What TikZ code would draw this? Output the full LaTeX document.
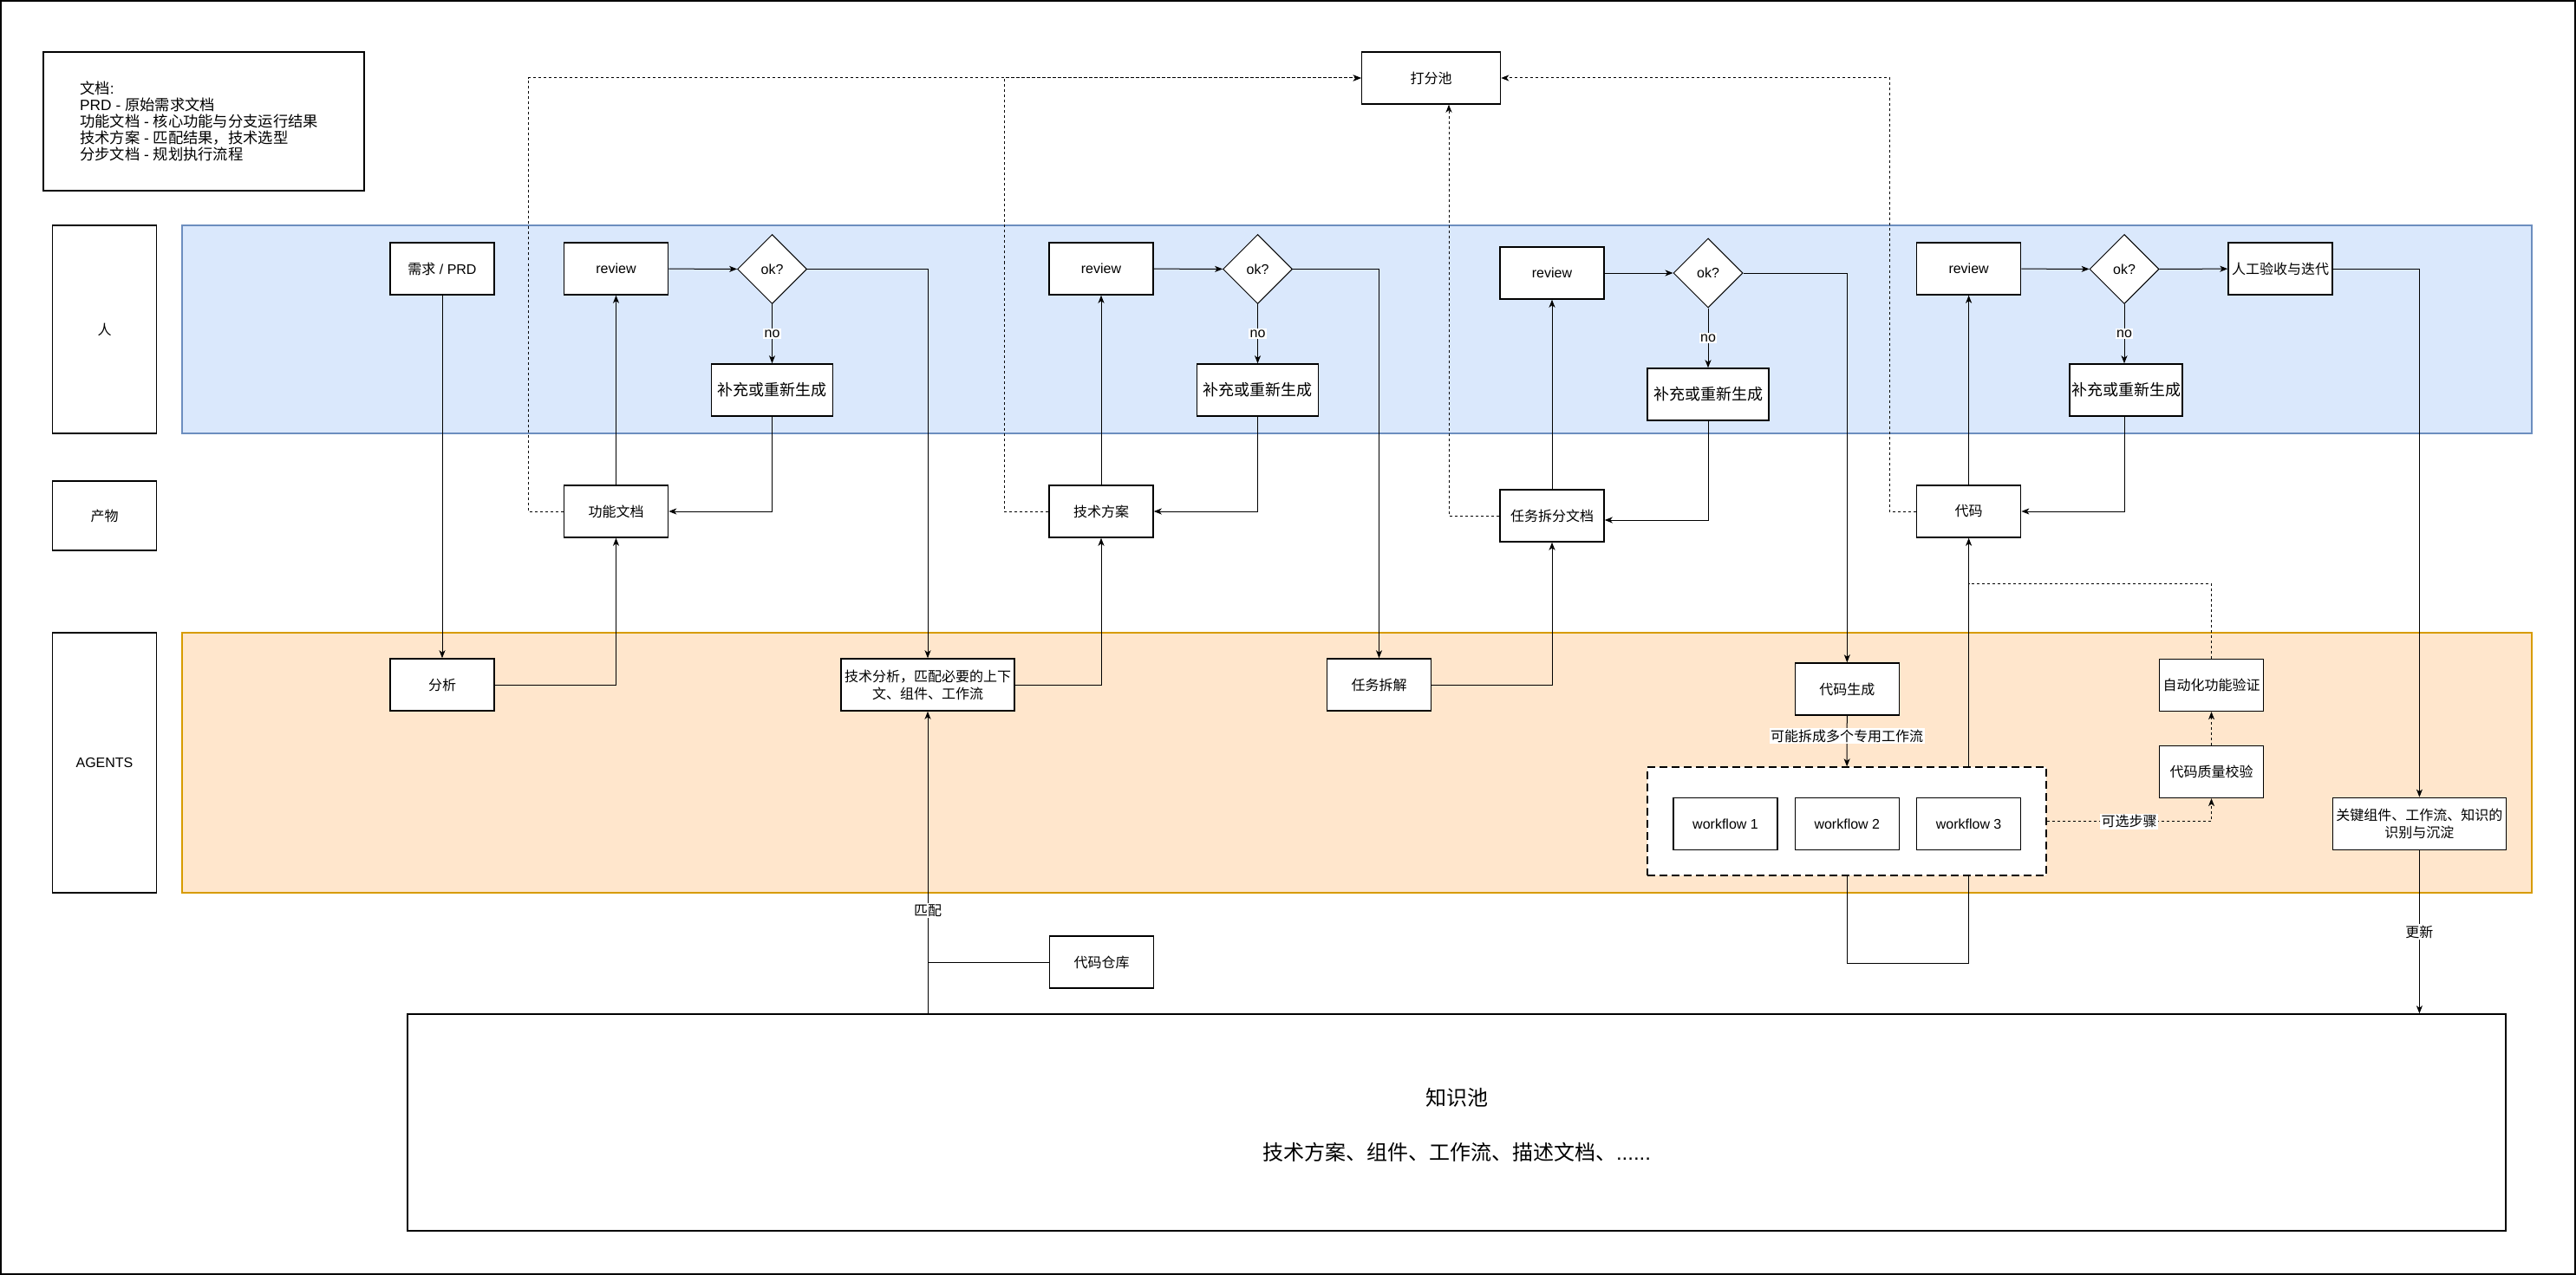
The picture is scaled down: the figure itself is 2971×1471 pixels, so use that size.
\documentclass[tikz,border=0pt]{standalone}
\usepackage{fontspec}
\setmainfont{Liberation Sans}
\newfontfamily\cjkf{Noto Sans CJK SC}
\newcommand\zh[1]{{\cjkf #1}}
\usetikzlibrary{shapes.geometric,arrows.meta,calc}
\definecolor{laneblue}{HTML}{DAE8FC}
\definecolor{laneblueline}{HTML}{6C8EBF}
\definecolor{laneorange}{HTML}{FFE6CC}
\definecolor{laneorangeline}{HTML}{D79B00}
\pgfdeclarelayer{lanes}\pgfdeclarelayer{behind}
\pgfsetlayers{lanes,behind,main}
\begin{document}
\begin{tikzpicture}[x=1pt,y=-1pt,
  every node/.style={font=\fontsize{16}{20}\selectfont, inner sep=0pt},
  box/.style={draw, line width=1.5pt, fill=white, minimum width=120pt, minimum height=60pt, align=center},
  fixbox/.style={box, minimum width=140pt, font=\fontsize{18}{22}\selectfont},
  dia/.style={draw, diamond, line width=1pt, fill=white, minimum width=80pt, minimum height=80pt},
  lbl/.style={fill=white, inner sep=1.5pt},
  tip/.style={-{Stealth[length=9pt,width=7pt,inset=2.5pt]}},
  conn/.style={line width=1pt, tip},
  plainline/.style={line width=1pt},
  dotline/.style={line width=1pt, dash pattern=on 3pt off 3pt},
  dotconn/.style={dotline, tip},
  bigtext/.style={font=\fontsize{24}{28}\selectfont}
]
\useasboundingbox (0,0) rectangle (2971,1471);
\begin{pgfonlayer}{lanes}
  \fill[white] (0,0) rectangle (2971,1471);
  \draw[line width=2pt] (1,1) rectangle (2970,1470);
  \draw[fill=laneblue, draw=laneblueline, line width=1.2pt] (210,260) rectangle (2920,500);
  \draw[fill=laneorange, draw=laneorangeline, line width=1.2pt] (210,730) rectangle (2920,1030);
\end{pgfonlayer}

% legend
\node[draw, line width=1.5pt, minimum width=370pt, minimum height=160pt] (legbox) at (235,140) {};
\node[anchor=west, align=left, font=\fontsize{17.3}{18.85}\selectfont] (legtext) at (92,140)
  {\zh{文档}:\\PRD - \zh{原始需求文档}\\\zh{功能文档} - \zh{核心功能与分支运行结果}\\\zh{技术方案} - \zh{匹配结果，技术选型}\\\zh{分步文档} - \zh{规划执行流程}};

% lane labels
\node[box, minimum height=240pt] (lane1) at (120.5,380) {\zh{人}};
\node[box, minimum height=80pt] (lane2) at (120.5,595) {\zh{产物}};
\node[box, minimum height=300pt] (lane3) at (120.5,880) {AGENTS};

% scoring pool
\node[box, minimum width=160pt] (dfc) at (1650.5,90) {\zh{打分池}};

% stage 1
\node[box] (prd) at (510,310) {\zh{需求} / PRD};
\node[box] (rv1) at (710.5,310) {review};
\node[dia] (ok1) at (890.5,310.5) {ok?};
\node[fixbox] (fix1) at (890.5,450) {\zh{补充或重新生成}};
\node[box] (fd) at (710.5,590) {\zh{功能文档}};
\node[box] (fx) at (510,790) {\zh{分析}};

% stage 2
\node[box, minimum width=200pt] (tfx) at (1070,790) {\zh{技术分析，匹配必要的上下}\\\zh{文、组件、工作流}};
\node[box] (rv2) at (1270,310) {review};
\node[dia] (ok2) at (1450.5,310.5) {ok?};
\node[fixbox] (fix2) at (1450.5,450) {\zh{补充或重新生成}};
\node[box] (jsfa) at (1270,590) {\zh{技术方案}};
\node[box] (dmck) at (1270.5,1110) {\zh{代码仓库}};

% stage 3
\node[box] (rwcj) at (1590.5,790) {\zh{任务拆解}};
\node[box] (rwwd) at (1790,595) {\zh{任务拆分文档}};
\node[box] (rv3) at (1790,315) {review};
\node[dia] (ok3) at (1970,315) {ok?};
\node[fixbox] (fix3) at (1970,455) {\zh{补充或重新生成}};

% stage 4
\node[box] (dmsc) at (2130.3,795) {\zh{代码生成}};
\node[draw, fill=white, line width=1.8pt, dash pattern=on 9pt off 5pt, minimum width=460pt, minimum height=125pt] (wfc) at (2130,947.7) {};
\node[box] (wf1) at (1990,950.4) {workflow 1};
\node[box] (wf2) at (2130.3,950.4) {workflow 2};
\node[box] (wf3) at (2270.6,950.4) {workflow 3};
\node[box] (dm) at (2270.6,590) {\zh{代码}};
\node[box] (rv4) at (2270.6,310) {review};
\node[dia] (ok4) at (2450,310.5) {ok?};
\node[fixbox, minimum width=130pt] (fix4) at (2452,450) {\zh{补充或重新生成}};
\node[box] (rgys) at (2630,310) {\zh{人工验收与迭代}};
\node[box] (zdh) at (2550.5,790.4) {\zh{自动化功能验证}};
\node[box] (dmzl) at (2550.5,890.4) {\zh{代码质量校验}};
\node[box, minimum width=200pt] (gjzj) at (2790.4,950.4) {\zh{关键组件、工作流、知识的}\\\zh{识别与沉淀}};

% knowledge pool
\node[box, minimum width=2420pt, minimum height=250pt] (zsc) at (1680,1295) {};
\node[bigtext] (zsct1) at (1680,1266) {\zh{知识池}};
\node[bigtext] (zsct2) at (1680,1329) {\zh{技术方案、组件、工作流、描述文档、}......};

\coordinate (j1) at (2270.6,673);

% connectors stage 1
\draw[conn] (prd) -- (fx);
\draw[conn] (fx.east) -| (fd.south);
\draw[conn] (fd) -- (rv1);
\draw[conn] (rv1) -- (ok1);
\draw[conn] (ok1) -- node[lbl]{no} (fix1);
\draw[conn] (fix1.south) |- (fd.east);
\draw[conn] (ok1.east) -| (tfx.north);

% stage 2
\draw[conn] (tfx.east) -| (jsfa.south);
\draw[conn] (jsfa) -- (rv2);
\draw[conn] (rv2) -- (ok2);
\draw[conn] (ok2) -- node[lbl]{no} (fix2);
\draw[conn] (fix2.south) |- (jsfa.east);
\draw[conn] (ok2.east) -| (rwcj.north);
\draw[conn] (zsc.north -| tfx.south) -- node[lbl, pos=0.34]{\zh{匹配}} (tfx.south);
\draw[plainline] (dmck.west) -- (dmck.west -| tfx.south);

% stage 3
\draw[conn] (rwcj.east) -| (rwwd.south);
\draw[conn] (rwwd) -- (rv3);
\draw[conn] (rv3) -- (ok3);
\draw[conn] (ok3) -- node[lbl]{no} (fix3);
\draw[conn] (fix3.south) |- ([yshift=-5pt]rwwd.east);
\draw[conn] (ok3.east) -| (dmsc.north);

% stage 4
\draw[conn] (dmsc) -- node[lbl, pos=0.4]{\zh{可能拆成多个专用工作流}} (wfc);
\begin{pgfonlayer}{behind}
  \draw[conn] (wfc.south) -- ++(0,100) -| (dm.south);
\end{pgfonlayer}
\draw[conn] (dm) -- (rv4);
\draw[conn] (rv4) -- (ok4);
\draw[conn] (ok4) -- node[lbl]{no} (ok4.south |- fix4.north);
\draw[conn] (ok4.south |- fix4.south) |- (dm.east);
\draw[conn] (ok4) -- (rgys);
\draw[conn] (rgys.east) -| (gjzj.north);
\draw[conn] (gjzj.south) -- node[lbl]{\zh{更新}} (gjzj.south |- zsc.north);
\draw[dotconn] (wfc.east) -| node[lbl, pos=0.25]{\zh{可选步骤}} (dmzl.south);
\draw[dotconn] (dmzl) -- (zdh);
\draw[dotline] (zdh.north) |- (j1);

% scoring links
\draw[dotconn] (fd.west) -- ++(-40.5,0) |- (dfc.west);
\draw[dotconn] (jsfa.west) -- ++(-50.5,0) |- (dfc.west);
\draw[dotconn] (rwwd.west) -| ([xshift=20.5pt]dfc.south);
\draw[dotconn] (dm.west) -- ++(-30.5,0) |- (dfc.east);
\end{tikzpicture}
\end{document}
